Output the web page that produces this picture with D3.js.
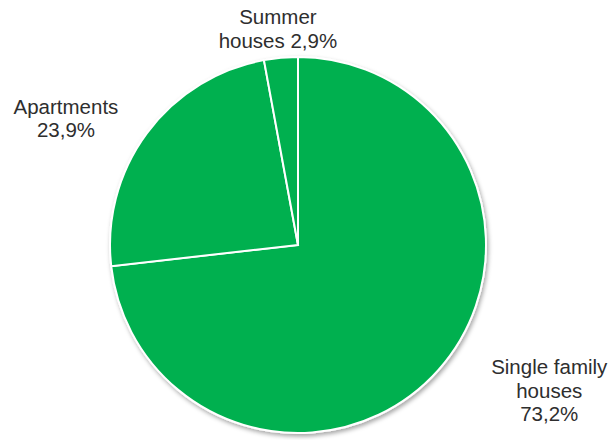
<!DOCTYPE html>
<html>
<head>
<meta charset="utf-8">
<script src="https://cdn.jsdelivr.net/npm/d3@7"></script>
<style>
  html, body { margin: 0; padding: 0; background: #fff; }
  svg { display: block; }
  text { font-family: "Liberation Sans", Arial, sans-serif; fill: #2e2e2e; }
</style>
</head>
<body>
<svg id="chart" width="614" height="440"></svg>
<script>
// Dwelling types and their shares (%)
const categories = ["Single family houses", "Apartments", "Summer houses"];
const values = [73.2, 23.9, 2.9];
const labelLines = [
  ["Single family", "houses", "73,2%"],
  ["Apartments", "23,9%"],
  ["Summer", "houses 2,9%"]
];

const width = 614, height = 440;
const cx = 298, cy = 245, radius = 188;
const fontSize = 20.5, lineHeight = 23.5;

// Nudges from the arc's outer midpoint to the centre of each label block
const labelNudge = [[111, 20], [-81, -15], [-3, -29]];

const svg = d3.select("#chart");

const defs = svg.append("defs");
const shadow = defs.append("filter").attr("id", "pieShadow")
  .attr("x", "-10%").attr("y", "-10%").attr("width", "120%").attr("height", "120%");
shadow.append("feDropShadow")
  .attr("dx", 1.5).attr("dy", 2.5).attr("stdDeviation", 2)
  .attr("flood-color", "#000").attr("flood-opacity", 0.35);

const data = categories.map((c, i) => ({ category: c, value: values[i], lines: labelLines[i] }));

const pie = d3.pie().value(d => d.value).sort(null);
const arcs = pie(data);
const arc = d3.arc().innerRadius(0).outerRadius(radius);

const g = svg.append("g").attr("transform", `translate(${cx},${cy})`);

g.append("g").attr("filter", "url(#pieShadow)")
  .selectAll("path")
  .data(arcs)
  .join("path")
  .attr("d", arc)
  .attr("fill", "#00B050")
  .attr("stroke", "#fff")
  .attr("stroke-width", 2)
  .attr("stroke-linejoin", "miter");

const labels = g.selectAll("text.label")
  .data(arcs)
  .join("text")
  .attr("class", "label")
  .attr("text-anchor", "middle")
  .style("font-size", fontSize + "px");

labels.each(function (d, i) {
  const mid = (d.startAngle + d.endAngle) / 2;
  const ex = Math.sin(mid) * radius + labelNudge[i][0];
  const ey = -Math.cos(mid) * radius + labelNudge[i][1];
  const n = d.data.lines.length;
  const firstBaseline = ey - (n - 1) * lineHeight / 2 + fontSize * 0.36;
  d3.select(this).selectAll("tspan")
    .data(d.data.lines)
    .join("tspan")
    .attr("x", ex)
    .attr("y", (t, k) => firstBaseline + k * lineHeight)
    .text(t => t);
});
</script>
</body>
</html>
